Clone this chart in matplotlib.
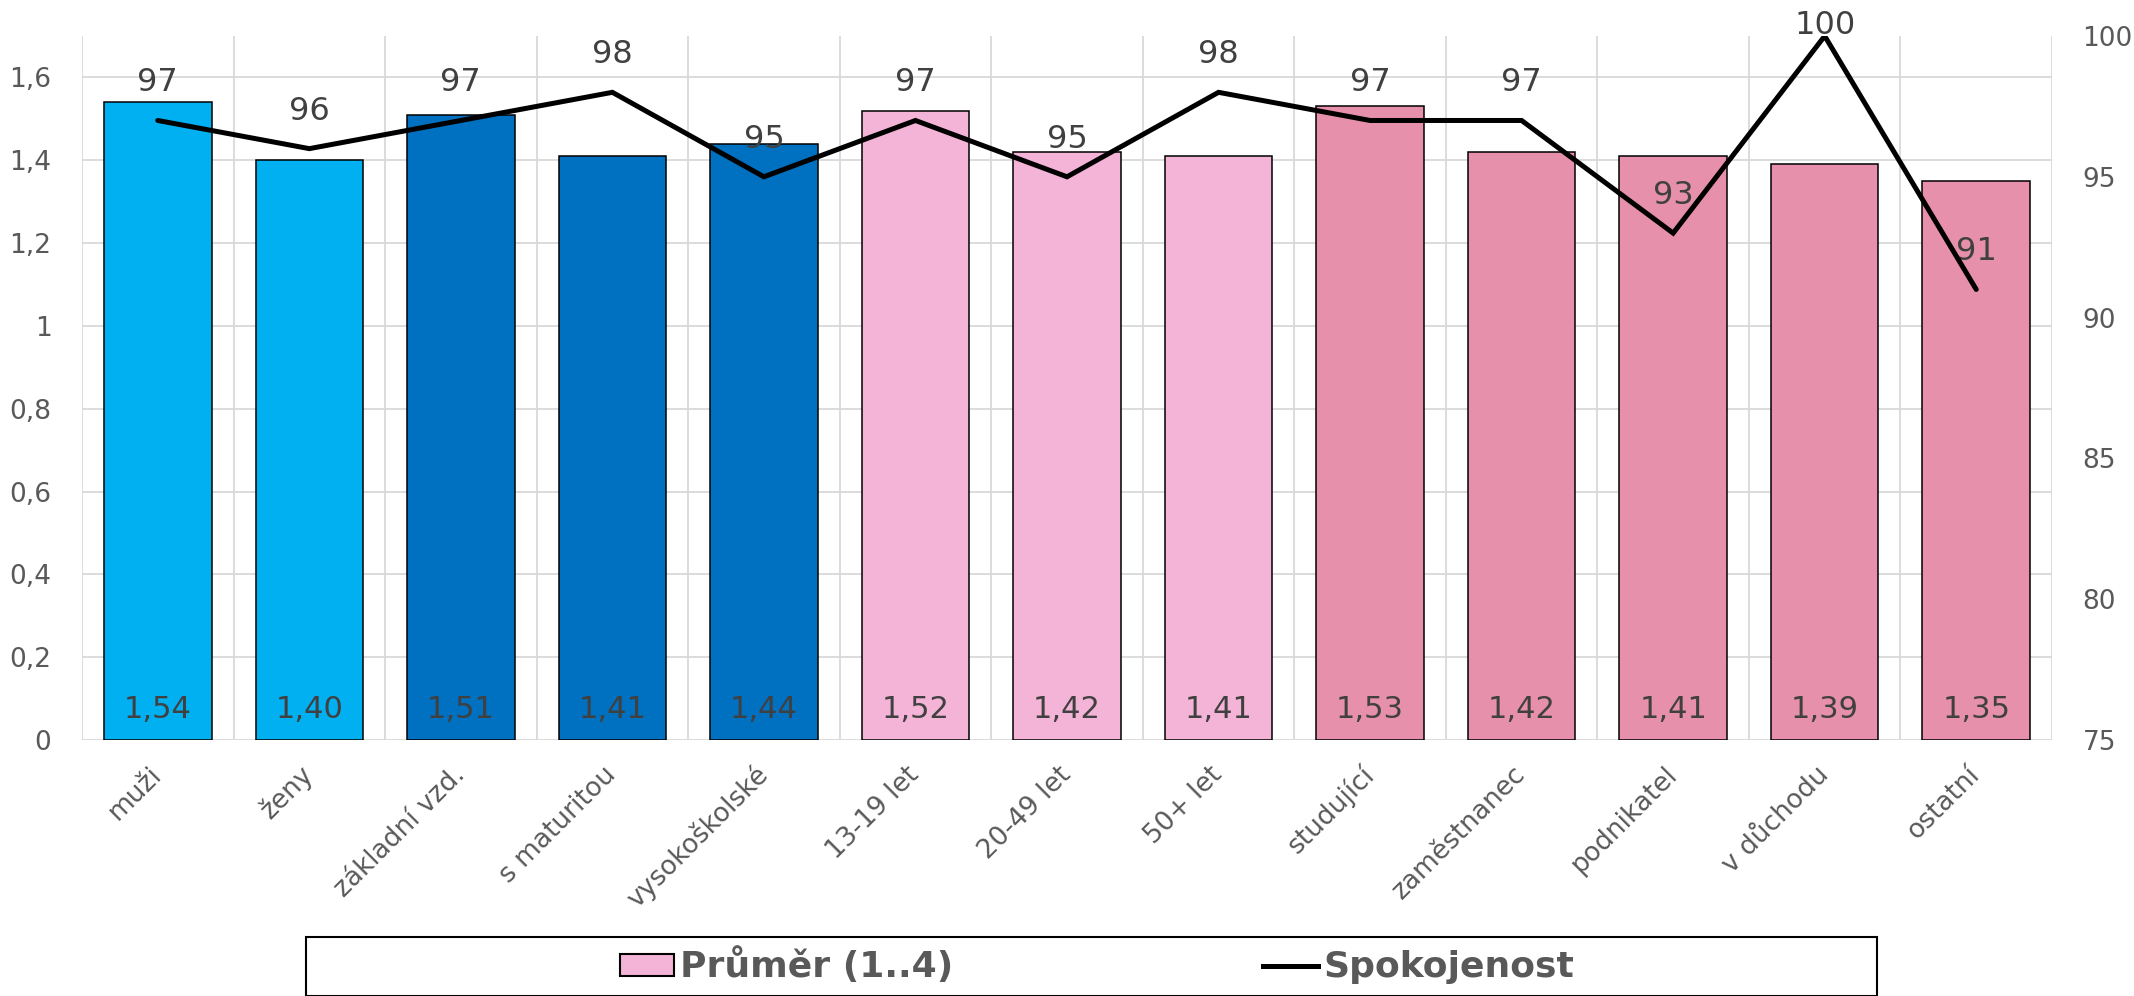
import matplotlib
matplotlib.use('Agg')
import matplotlib.pyplot as plt
import numpy as np
from matplotlib.patches import Patch, Rectangle
from matplotlib.lines import Line2D

plt.rcParams['font.family'] = ['DejaVu Sans']

categories = ['muži', 'ženy', 'základní vzd.', 's maturitou', 'vysokoškolské',
              '13-19 let', '20-49 let', '50+ let', 'studující', 'zaměstnanec',
              'podnikatel', 'v důchodu', 'ostatní']
prumer = [1.54, 1.40, 1.51, 1.41, 1.44, 1.52, 1.42, 1.41, 1.53, 1.42, 1.41, 1.39, 1.35]
spokojenost = [97, 96, 97, 98, 95, 97, 95, 98, 97, 97, 93, 100, 91]
bar_colors = ['#00B0F0', '#00B0F0', '#0070C0', '#0070C0', '#0070C0',
              '#F4B4D7', '#F4B4D7', '#F4B4D7', '#E690AB', '#E690AB',
              '#E690AB', '#E690AB', '#E690AB']
left_ticks = [0, 0.2, 0.4, 0.6, 0.8, 1, 1.2, 1.4, 1.6]
right_ticks = [75, 80, 85, 90, 95, 100]

TXT = '#595959'
LBL = '#404040'
GRID = '#D9D9D9'

W, H = 2134, 996
fig = plt.figure(figsize=(W / 100, H / 100), dpi=100)
ax = fig.add_axes([82 / W, 1 - 740 / H, (2052 - 82) / W, (740 - 36) / H])
ax2 = ax.twinx()

x = np.arange(len(categories))
ax.bar(x, prumer, width=0.71, color=bar_colors, edgecolor='black', lw=1.1, zorder=3)
for xi, v in zip(x, prumer):
    ax.annotate(('%.2f' % v).replace('.', ','), (xi, 0), xytext=(0, 22),
                textcoords='offset points', ha='center', va='center',
                fontsize=22, color=LBL, zorder=4)

ax.set_xlim(-0.5, len(categories) - 0.5)
ax.set_ylim(0, 1.7)
ax.set_yticks(left_ticks)
ax.set_yticklabels([('%g' % t).replace('.', ',') for t in left_ticks])
ax.set_xticks(x)
ax.set_xticklabels(categories, rotation=45, ha='right', va='center',
                   rotation_mode='anchor')
ax.set_xticks(np.arange(len(categories) + 1) - 0.5, minor=True)
ax.grid(True, axis='y', color=GRID, lw=1.3, zorder=0)
ax.grid(True, axis='x', which='minor', color=GRID, lw=1.3, zorder=0)
ax.grid(False, axis='x', which='major')
ax.set_axisbelow(True)
ax.tick_params(axis='y', length=0, pad=22, labelsize=19, labelcolor=TXT)
ax.tick_params(axis='x', which='both', length=0, pad=22, labelsize=19, labelcolor=TXT)
for s in ax.spines.values():
    s.set_visible(False)
for s in ax2.spines.values():
    s.set_visible(False)

ax2.set_ylim(75, 100)
ax2.set_yticks(right_ticks)
ax2.tick_params(axis='y', length=0, pad=22, labelsize=19, labelcolor=TXT)
ax2.plot(x, spokojenost, color='black', lw=3.6, solid_joinstyle='miter',
         solid_capstyle='round', zorder=5)

# value labels above the line, kept inside the figure like the original
for xi, v in zip(x, spokojenost):
    py = ax2.transData.transform((xi, v))[1]
    off = min(27, (H - 25 - py) * 72 / 100)
    ax2.annotate(str(v), (xi, v), xytext=(0, off), textcoords='offset points',
                 ha='center', va='center', fontsize=23, color=LBL)

# legend
handles = [Patch(facecolor='#F4B4D7', edgecolor='black', lw=1.5),
           Line2D([0], [0], color='black', lw=3.6)]
fig.legend(handles, ['Průměr (1..4)', 'Spokojenost'], loc='center',
           bbox_to_anchor=(1097 / W, 1 - 966 / H), ncol=2, frameon=False,
           prop={'weight': 'bold', 'size': 26}, labelcolor=TXT,
           handlelength=1.5, handleheight=0.55, handletextpad=0.15,
           columnspacing=8.6)
fig.patches.append(Rectangle((306 / W, 0.0), (1877 - 306) / W, 1 - 937 / H,
                             transform=fig.transFigure, fill=False,
                             edgecolor='black', lw=1.5))

fig.savefig('out.png', dpi=100)
